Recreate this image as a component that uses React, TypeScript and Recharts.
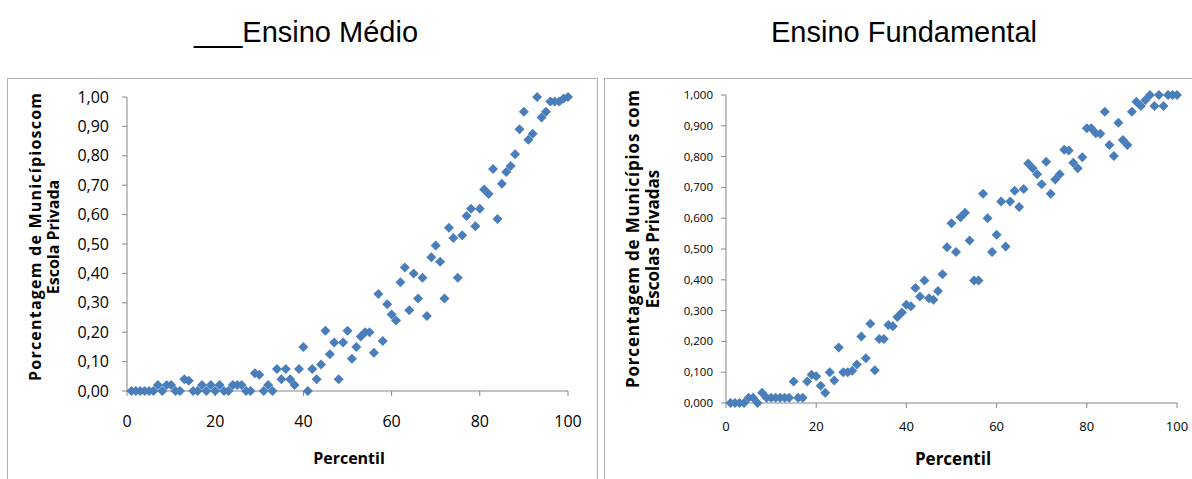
import { ScatterChart, Scatter, XAxis, YAxis } from 'recharts';

const percentil = [
  1, 2, 3, 4, 5, 6, 7, 8, 9, 10, 11, 12, 13, 14, 15, 16, 17, 18, 19, 20,
  21, 22, 23, 24, 25, 26, 27, 28, 29, 30, 31, 32, 33, 34, 35, 36, 37, 38, 39, 40,
  41, 42, 43, 44, 45, 46, 47, 48, 49, 50, 51, 52, 53, 54, 55, 56, 57, 58, 59, 60,
  61, 62, 63, 64, 65, 66, 67, 68, 69, 70, 71, 72, 73, 74, 75, 76, 77, 78, 79, 80,
  81, 82, 83, 84, 85, 86, 87, 88, 89, 90, 91, 92, 93, 94, 95, 96, 97, 98, 99, 100,
];

// Ensino Médio — share of municipalities with a private school
const medio = [
  0, 0, 0, 0, 0, 0, 0.02, 0, 0.02, 0.02, 0, 0, 0.04, 0.035, 0, 0, 0.02, 0, 0.02, 0,
  0.02, 0, 0, 0.02, 0.02, 0.02, 0, 0, 0.06, 0.055, 0, 0.02, 0, 0.075, 0.04, 0.075, 0.04, 0.02, 0.075, 0.15,
  0, 0.075, 0.04, 0.09, 0.205, 0.125, 0.165, 0.04, 0.165, 0.205, 0.11, 0.15, 0.185, 0.2, 0.2, 0.13, 0.33, 0.17, 0.295, 0.26,
  0.24, 0.37, 0.42, 0.275, 0.4, 0.315, 0.385, 0.255, 0.455, 0.495, 0.44, 0.315, 0.555, 0.52, 0.385, 0.53, 0.595, 0.62, 0.56, 0.62,
  0.685, 0.67, 0.755, 0.585, 0.705, 0.745, 0.765, 0.805, 0.89, 0.95, 0.855, 0.875, 1.0, 0.93, 0.95, 0.985, 0.985, 0.985, 0.995, 1.0,
];

// Ensino Fundamental — share of municipalities with private schools
const fundamental = [
  0, 0, 0, 0, 0.017, 0.017, 0, 0.033, 0.017, 0.017, 0.017, 0.017, 0.017, 0.017, 0.07, 0.017, 0.017, 0.07, 0.092, 0.087,
  0.056, 0.033, 0.1, 0.073, 0.18, 0.1, 0.1, 0.105, 0.125, 0.216, 0.145, 0.257, 0.106, 0.208, 0.208, 0.253, 0.249, 0.279, 0.294, 0.319,
  0.314, 0.373, 0.346, 0.398, 0.34, 0.335, 0.364, 0.418, 0.506, 0.584, 0.49, 0.603, 0.618, 0.528, 0.398, 0.398, 0.679, 0.6, 0.49, 0.546,
  0.654, 0.508, 0.654, 0.689, 0.636, 0.695, 0.778, 0.762, 0.743, 0.71, 0.783, 0.679, 0.726, 0.743, 0.822, 0.82, 0.78, 0.762, 0.798, 0.892,
  0.892, 0.876, 0.874, 0.946, 0.838, 0.802, 0.91, 0.854, 0.838, 0.946, 0.978, 0.964, 0.984, 1.0, 0.964, 1.0, 0.964, 1.0, 1.0, 1.0,
];

const xTicks = [0, 20, 40, 60, 80, 100];
const yTicks = [0, 0.1, 0.2, 0.3, 0.4, 0.5, 0.6, 0.7, 0.8, 0.9, 1];

const BLUE = '#4a7ebb';
const AXIS = '#868686';
const LABEL_FONT = "'Open Sans', sans-serif";
const TITLE_FONT = "'Liberation Sans', Arial, sans-serif";

const medioData = percentil.map((p, i) => ({ x: p, y: medio[i] }));
const fundData = percentil.map((p, i) => ({ x: p, y: fundamental[i] }));

// excel-style diamond marker (square turned 45°)
function Diamond(props: any) {
  const { cx, cy } = props;
  if (cx == null || cy == null) return null;
  const r = 5;
  return <path d={`M${cx},${cy - r}L${cx + r},${cy}L${cx},${cy + r}L${cx - r},${cy}Z`} fill={BLUE} />;
}

const comma = (digits: number) => (v: number) => v.toFixed(digits).replace('.', ',');

export default function App() {
  return (
    <div style={{ position: 'absolute', left: 0, top: 0, width: 1192, height: 479, overflow: 'hidden', background: '#fff' }}>
      <div style={{ position: 'absolute', left: 7, top: 78, width: 589, height: 420, border: '1px solid #b0b0b0' }} />
      <div style={{ position: 'absolute', left: 604, top: 78, width: 600, height: 420, border: '1px solid #b0b0b0' }} />

      <div style={{ position: 'absolute', left: 0, top: 0 }}>
        <ScatterChart width={600} height={479} margin={{ top: 97, right: 32, bottom: 58, left: 67 }}>
          <XAxis
            type="number"
            dataKey="x"
            domain={[0, 100]}
            ticks={xTicks}
            height={30}
            stroke={AXIS}
            tickSize={5}
            tickMargin={20}
            tick={{ fill: '#000', fontSize: 16, fontFamily: LABEL_FONT }}
          />
          <YAxis
            type="number"
            dataKey="y"
            domain={[0, 1]}
            ticks={yTicks}
            width={60}
            stroke={AXIS}
            tickSize={5}
            tickMargin={13}
            tickFormatter={comma(2)}
            tick={{ fill: '#000', fontSize: 16, fontFamily: LABEL_FONT }}
          />
          <Scatter data={medioData} shape={Diamond} isAnimationActive={false} />
        </ScatterChart>
      </div>

      <div style={{ position: 'absolute', left: 600, top: 0 }}>
        <ScatterChart width={592} height={479} margin={{ top: 95, right: 15, bottom: 46, left: 66 }}>
          <XAxis
            type="number"
            dataKey="x"
            domain={[0, 100]}
            ticks={xTicks}
            height={30}
            stroke={AXIS}
            tickSize={5}
            tickMargin={14}
            tick={{ fill: '#000', fontSize: 13, fontFamily: LABEL_FONT }}
          />
          <YAxis
            type="number"
            dataKey="y"
            domain={[0, 1]}
            ticks={yTicks}
            width={60}
            stroke={AXIS}
            tickSize={5}
            tickMargin={8}
            tickFormatter={comma(3)}
            tick={{ fill: '#000', fontSize: 11.5, fontFamily: LABEL_FONT }}
          />
          <Scatter data={fundData} shape={Diamond} isAnimationActive={false} />
        </ScatterChart>
      </div>

      <svg width={1192} height={479} style={{ position: 'absolute', left: 0, top: 0, pointerEvents: 'none' }}>
        <text x={306} y={42} textAnchor="middle" fontSize={29} fontFamily={TITLE_FONT} fill="#000">
          ___Ensino Médio
        </text>
        <text x={904} y={42} textAnchor="middle" fontSize={29} fontFamily={TITLE_FONT} fill="#000">
          Ensino Fundamental
        </text>

        <g fontFamily={LABEL_FONT} fontWeight="bold" fontSize={16} fill="#000" textAnchor="middle">
          <text transform="translate(41,237) rotate(-90)" textLength={288} lengthAdjust="spacing">
            Porcentagem de Municípioscom
          </text>
          <text transform="translate(59,237) rotate(-90)">Escola Privada</text>
          <text x={349} y={464}>Percentil</text>

          <text transform="translate(639,239) rotate(-90)" fontSize={17} textLength={298} lengthAdjust="spacing">
            Porcentagem de Municípios com
          </text>
          <text transform="translate(659,239) rotate(-90)" fontSize={17}>Escolas Privadas</text>
          <text x={953} y={465} fontSize={17}>Percentil</text>
        </g>
      </svg>
    </div>
  );
}
